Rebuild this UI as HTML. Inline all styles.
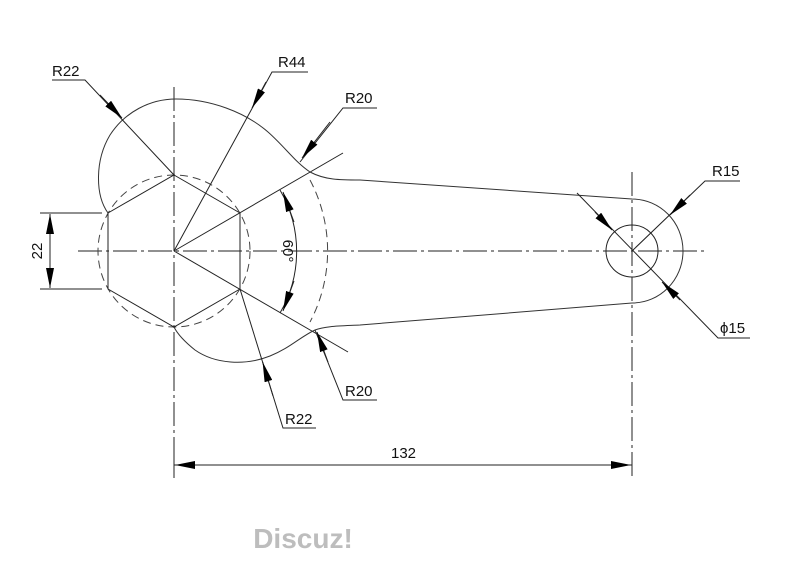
<!DOCTYPE html>
<html><head><meta charset="utf-8"><style>
html,body{margin:0;padding:0;background:#fff;width:800px;height:561px;overflow:hidden}
svg text{font-family:"Liberation Sans",sans-serif;font-size:15px;fill:#111}
</style></head><body>
<svg width="800" height="561" viewBox="0 0 800 561" xmlns="http://www.w3.org/2000/svg">
<defs>
<marker id="a" viewBox="0 0 20 8" refX="20" refY="4" markerWidth="20" markerHeight="8" markerUnits="userSpaceOnUse" orient="auto"><path d="M0,0 L20,4 L0,8 Z" fill="#000"/></marker>
</defs>
<g fill="none" stroke="#222" stroke-width="1">
<line x1="78" y1="251" x2="707" y2="251" stroke-dasharray="24,4,3,4"/>
<line x1="174" y1="87" x2="174" y2="478" stroke-dasharray="24,4,3,4"/>
<line x1="632" y1="172" x2="632" y2="478" stroke-dasharray="24,4,3,4"/>
<circle cx="174" cy="251" r="76" stroke-dasharray="8,5" stroke="#444"/>
<path d="M 310 180 A 152 152 0 0 1 310 322" stroke-dasharray="8,5" stroke="#444"/>
<polygon points="174,175 240,213 240,289 174,327 108,289 108,213"/>
<line x1="174" y1="251" x2="343" y2="153"/>
<line x1="174" y1="251" x2="348" y2="352"/>
<path d="M108,213 C95,195 95,160 110,135 C125,112 150,99 176,99 C210,99 245,112 268,132 C285,147 295,162 310,172 C325,180 340,180 360,180 L632,199 C660,199 683,222 683,251 C683,280 660,303 632,303 L360,325 C340,326 325,326 315,330 C300,337 290,348 270,356 C245,366 215,364 195,350 C185,342 178,335 174,327" stroke="#333"/>
<circle cx="632" cy="251" r="26"/>
<polyline points="52,80 85,80 174,175"/>
<line x1="100" y1="95" x2="122" y2="118" marker-end="url(#a)"/>
<polyline points="308,72 272,72 174,251"/>
<line x1="266" y1="82" x2="252" y2="108" marker-end="url(#a)"/>
<polyline points="377,108 343,108 300,162"/>
<line x1="330" y1="122" x2="302" y2="158" marker-end="url(#a)"/>
<polyline points="377,400 343,400 315,330"/>
<line x1="328" y1="362" x2="317" y2="332" marker-end="url(#a)"/>
<polyline points="316,428 283,428 240,289"/>
<line x1="273" y1="396" x2="262.6" y2="362" marker-end="url(#a)"/>
<polyline points="740,181 705,181 632,251"/>
<line x1="690" y1="195" x2="670" y2="215" marker-end="url(#a)"/>
<polyline points="750,338 718,338 577,193"/>
<line x1="595" y1="212" x2="612" y2="230" marker-end="url(#a)"/>
<line x1="680" y1="300" x2="662" y2="282" marker-end="url(#a)"/>
<line x1="40" y1="213" x2="102" y2="213"/>
<line x1="40" y1="289" x2="102" y2="289"/>
<line x1="50" y1="235" x2="50" y2="214" marker-end="url(#a)"/>
<line x1="50" y1="267" x2="50" y2="288" marker-end="url(#a)"/>
<line x1="50" y1="235" x2="50" y2="267"/>
<path d="M280,190 A122 122 0 0 1 280,313"/>
<line x1="294" y1="222" x2="283" y2="192" marker-end="url(#a)"/>
<line x1="294" y1="281" x2="283" y2="311" marker-end="url(#a)"/>
<line x1="174" y1="440" x2="174" y2="478"/>
<line x1="174" y1="465" x2="632" y2="465"/>
<line x1="196" y1="465" x2="175" y2="465" marker-end="url(#a)"/>
<line x1="610" y1="465" x2="631" y2="465" marker-end="url(#a)"/>
</g>
<text x="52" y="76">R22</text>
<text x="278" y="67">R44</text>
<text x="345" y="103">R20</text>
<text x="345" y="396">R20</text>
<text x="285" y="424">R22</text>
<text x="712" y="176">R15</text>
<text x="720" y="333">ϕ15</text>
<text x="391" y="458">132</text>
<text x="0" y="0" transform="translate(42,251) rotate(-90)" text-anchor="middle">22</text>
<text x="0" y="0" transform="translate(283,251) rotate(90)" text-anchor="middle">60°</text>
<text x="303" y="548" text-anchor="middle" style="font-size:28px;font-weight:bold;fill:#bdbdbd">Discuz!</text>
</svg>
</body></html>
